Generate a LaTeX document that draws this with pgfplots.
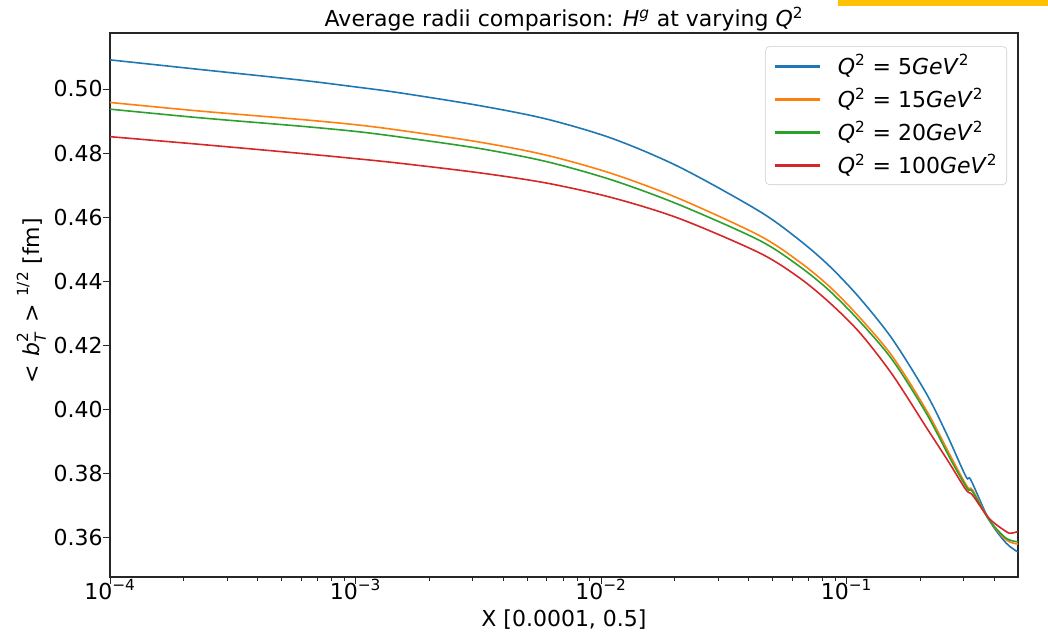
\documentclass[border=0pt]{standalone}
\usepackage{fontspec}
\setmainfont{DejaVu Sans}
\usepackage{pgfplots}
\pgfplotsset{compat=1.18}
\definecolor{cblue}{HTML}{1F77B4}
\definecolor{corange}{HTML}{FF7F0E}
\definecolor{cgreen}{HTML}{2CA02C}
\definecolor{cred}{HTML}{D62728}
\definecolor{cbar}{HTML}{FFC000}
\newcommand{\sups}[1]{\textsuperscript{\fontsize{11.5}{12}\selectfont #1}}
\newcommand{\hsup}[1]{\raise0.5em\hbox{\fontsize{11.5}{12}\selectfont #1}}
\newcommand{\hsub}[1]{\lower0.3em\hbox{\fontsize{11.5}{12}\selectfont #1}}
\begin{document}
\fontsize{16.5}{19.8}\selectfont
\begin{tikzpicture}
\useasboundingbox (-82.5pt,-42.75pt) rectangle (703.5pt,432.75pt);
\fill[cbar] (546pt,428.5pt) rectangle (703.5pt,432.75pt);
\begin{axis}[
  at={(0,0)}, anchor=south west,
  scale only axis, width=681pt, height=408pt,
  xmode=log, xmin=1e-4, xmax=0.5,
  ymin=0.3475, ymax=0.5175,
  axis line style={black!85, line width=0.8pt},
  tick align=outside,
  xtick pos=left, ytick pos=left,
  major tick length=5.25pt, minor tick length=3pt,
  every tick/.style={black!85, line width=0.6pt},
  xtick={1e-4,1e-3,1e-2,1e-1},
  xticklabels={10\sups{−4},10\sups{−3},10\sups{−2},10\sups{−1}},
  minor xtick={2e-4,3e-4,4e-4,5e-4,6e-4,7e-4,8e-4,9e-4,2e-3,3e-3,4e-3,5e-3,6e-3,7e-3,8e-3,9e-3,2e-2,3e-2,4e-2,5e-2,6e-2,7e-2,8e-2,9e-2,0.2,0.3,0.4},
  ytick={0.36,0.38,0.40,0.42,0.44,0.46,0.48,0.50},
  yticklabels={0.36,0.38,0.40,0.42,0.44,0.46,0.48,0.50},
  xticklabel style={anchor=north, inner sep=0pt, yshift=3.5pt},
  yticklabel style={anchor=east, inner sep=0pt},
  legend style={at={(axis description cs:1,1)}, anchor=north east, xshift=-8.25pt, yshift=-10pt,
    draw=black!20, rounded corners=3pt, fill=white,
    inner xsep=7pt, inner ysep=6pt, row sep=7.5pt, column sep=13.5pt,
    nodes={draw=none, inner sep=0pt, anchor=base west}},
  legend cell align=left,
  legend image code/.code={\fill[#1, sharp corners, draw=none] (0pt,0.3em) rectangle (33.75pt,0.3em+1.8pt);},
  every axis plot/.append style={line width=1.2pt, smooth, tension=0.5},
]
\addplot[cblue] table {
x y
1e-4 0.5091
2.325e-4 0.5061
5.933e-4 0.5028
1.012e-3 0.5006
1.515e-3 0.4988
3.205e-3 0.4948
6.008e-3 0.4906
0.01115 0.4845
0.02089 0.4756
0.04419 0.4618
0.06432 0.4528
0.08519 0.4447
0.1129 0.4348
0.1537 0.4219
0.2114 0.4049
0.2574 0.3918
0.3067 0.3789
0.3214 0.3778
0.3816 0.3653
0.4474 0.3581
0.5 0.3553
};
\addlegendentry{\textit{Q}\sups{2} = 5\textit{GeV}\sups{2}}
\addplot[corange] table {
x y
1e-4 0.4958
2.325e-4 0.4931
5.933e-4 0.4905
1.012e-3 0.4888
1.515e-3 0.4871
3.205e-3 0.4834
6.008e-3 0.4793
0.01115 0.4735
0.02089 0.4657
0.04419 0.4542
0.06432 0.4460
0.08519 0.4383
0.1129 0.4287
0.1537 0.4165
0.2114 0.3997
0.2698 0.3843
0.3113 0.3756
0.3263 0.3747
0.3816 0.3653
0.4474 0.3591
0.5 0.3578
};
\addlegendentry{\textit{Q}\sups{2} = 15\textit{GeV}\sups{2}}
\addplot[cgreen] table {
x y
1e-4 0.4937
2.325e-4 0.4910
5.933e-4 0.4884
1.012e-3 0.4867
1.515e-3 0.4850
3.205e-3 0.4814
6.008e-3 0.4773
0.01115 0.4715
0.02089 0.4638
0.04419 0.4527
0.06432 0.4446
0.08519 0.4370
0.1129 0.4275
0.1537 0.4154
0.2114 0.3987
0.2698 0.3833
0.3113 0.3751
0.3263 0.3742
0.3816 0.3653
0.4474 0.3596
0.5 0.3585
};
\addlegendentry{\textit{Q}\sups{2} = 20\textit{GeV}\sups{2}}
\addplot[cred] table {
x y
1e-4 0.4851
2.325e-4 0.4827
5.933e-4 0.4799
1.012e-3 0.4782
1.515e-3 0.4768
3.205e-3 0.4738
6.008e-3 0.4706
0.01115 0.4660
0.02089 0.4595
0.04419 0.4488
0.06432 0.4410
0.08519 0.4333
0.1129 0.4240
0.1537 0.4108
0.2114 0.3943
0.2582 0.3840
0.3067 0.3748
0.3263 0.3731
0.3816 0.3658
0.4474 0.3617
0.4690 0.3612
0.5 0.3617
};
\addlegendentry{\textit{Q}\sups{2} = 100\textit{GeV}\sups{2}}
\end{axis}
\node[anchor=base, inner sep=0pt] at (340.5pt,412.7pt) {Average radii comparison: \textit{H}\sups{\textit{g}} at varying \textit{Q}\sups{2}};
\node[anchor=base, inner sep=0pt] at (340.5pt,-37pt) {X [0.0001, 0.5]};
\node[anchor=center, inner sep=0pt, rotate=90] at (-59pt,207pt) {\textless\hspace{0.4em}\textit{b}\rlap{\hsub{\textit{T}}}\hsup{2}\hspace{0.45em}\textgreater\hspace{0.35em}\hsup{1/2}\hspace{0.35em}[fm]};
\end{tikzpicture}
\end{document}
